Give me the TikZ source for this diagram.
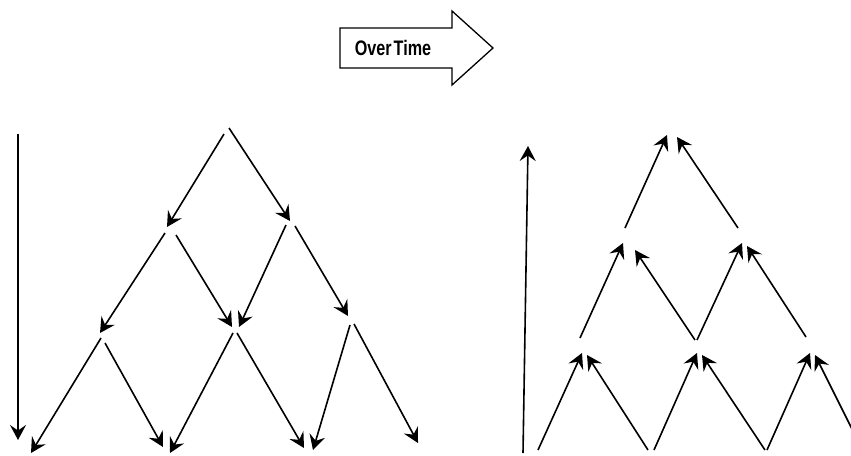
\documentclass[tikz,border=0pt]{standalone}
\usepackage{fontspec}
\setmainfont{Liberation Sans}
\usetikzlibrary{arrows.meta}
\tikzset{
  conn/.style={line width=1.6pt,-{Stealth[length=15pt,width=16pt,inset=5.5pt]}},
  bigarrow/.style={line width=1.3pt,draw=black,fill=white,line join=miter},
  lbl/.style={font=\bfseries\fontsize{21}{21}\selectfont,inner sep=0pt}
}
\begin{document}
\begin{tikzpicture}[x=1pt,y=-1pt]
\useasboundingbox (0,0) rectangle (851,455);
% Over Time arrow
\coordinate (o1) at (340,28);
\coordinate (o2) at (452,28);
\coordinate (o3) at (452,11);
\coordinate (o4) at (493,48);
\coordinate (o5) at (452,85);
\coordinate (o6) at (452,68);
\coordinate (o7) at (340,68);
\draw[bigarrow] (o1) -- (o2) -- (o3) -- (o4) -- (o5) -- (o6) -- (o7) -- cycle;
\node[lbl] (ot) at (393,48) {\scalebox{0.77}[1]{Over\hspace{-0.15em} Time}};
% coordinates: name/x/y
\foreach \n/\x/\y in {
  axLs/18/134, axLe/18/440,
  r1s/224/134, r1e/167/227, r2s/229/128, r2e/290/221,
  a1s/165/233, a1e/100/333, a2s/176/235, a2e/232/327,
  b1s/286/225, b1e/239/327, b2s/295/226, b2e/348/316,
  c1s/101/338, c1e/31/453, c2s/105/343, c2e/163/447,
  d1s/233/333, d1e/170/453, d2s/237/333, d2e/304/448,
  e1s/350/325, e1e/313/450, e2s/354/324, e2e/418/443,
  axRs/523/453, axRe/528/146,
  f1s/538/450, f1e/582/353, f2s/648/450, f2e/587/355,
  f3s/654/450, f3e/697/353, f4s/765/450, f4e/702/355,
  f5s/767/450, f5e/810/353, f6s/856/437, f6e/815/355,
  g1s/580/338, g1e/623/243, g2s/695/340, g2e/635/250,
  g3s/697/340, g3e/742/243, g4s/806/337, g4e/747/246,
  h1s/625/228, h1e/667/135, h2s/738/228, h2e/677/137}
  {\coordinate (\n) at (\x,\y);}
\foreach \n in {axL,r1,r2,a1,a2,b1,b2,c1,c2,d1,d2,e1,e2,
                axR,f1,f2,f3,f4,f5,f6,g1,g2,g3,g4,h1,h2}
  {\draw[conn] (\n s) -- (\n e);}
\end{tikzpicture}
\end{document}
